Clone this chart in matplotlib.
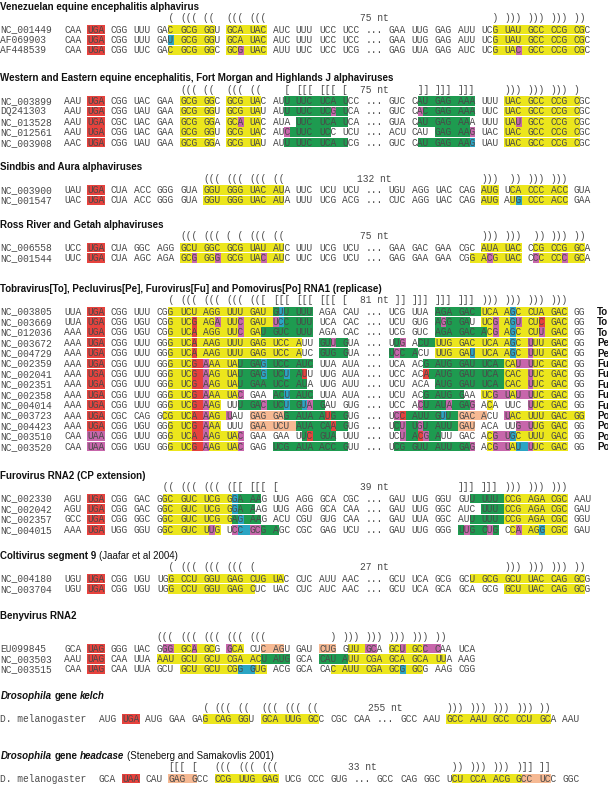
import matplotlib.pyplot as plt
from matplotlib.patches import Rectangle

# ---- data: each row = (name, codons, highlight mask, tag) ----
# mask letters: . none, R red, Y yellow, G green, M magenta, C cyan, S salmon

vee_title = [("Venezuelan equine encephalitis alphavirus", "bold", "normal")]
vee_brackets = "... ... ... ... ..( ((( ((. ((( ((( ... ... ... ... ... ... ... ... ... ..) ))) ))) ))) ))."
vee_label = "75 nt"
vee_rows = [
    ("NC_001449", "CAA UGA CGG UUU GAC GCG GGU GCA UAC AUC UUU UCC UCC ... GAA UUG GAG AUU UCG UAU GCC CCG CGC",
                  "... RRR ... ... ..Y YYY YY. YYY YYY ... ... ... ... ... ... ... ... ... ..Y YYY YYY YYY YY."),
    ("AF069903",  "CAA UGA CGG UUU GAU GCG GGU GCA UAC AUC UUU UCC UCC ... GAA UUG GAG AUU UCG UAU GCC CCG CGC",
                  "... RRR ... ... ..C YYY YY. YYY YYY ... ... ... ... ... ... ... ... ... ..Y YYY YYY YYY YY."),
    ("AF448539",  "CAA UGA CGG UUC GAC GCG GGC GCG UAC AUU UUC UCC UCG ... GAG UUA GAG AUC UCG UAC GCC CCG CGC",
                  "... RRR ... ... ..Y YYY YY. YYM YYY ... ... ... ... ... ... ... ... ... ..Y YYM YYY YYY YY."),
]

wee_title = [("Western and Eastern equine encephalitis, Fort Morgan and Highlands J alphaviruses", "bold", "normal")]
wee_brackets = "... ... ... ... ... ((( ((. ((( ((. ..[ [[[ [[[ [.. ... ... .]] ]]] ]]] ... ))) ))) ))) ).."
wee_label = "75 nt"
wee_rows = [
    ("NC_003899", "AAU UGA CGG UAC GAA GCG GGC GCG UAC AUU UUC UCA UCC ... GUC CAU GAG AAA UUU UAC GCC CCG CGC",
                  "... RRR ... ... ... YYY YY. YYY YY. ..G GGG GGG G.. ... ... .GG GGG GGG ... YYY YYY YYY Y.."),
    ("DQ241303",  "AAU UGA CGG UAU GAA GCG GGU GCG UAU AUU UUC UCG UCA ... GUC CAC GAG AAA UUC UAC GCC CCG CGC",
                  "... RRR ... ... ... YYY YY. YYY YY. ..G GGG GGM G.. ... ... .MG GGG GGG ... YYY YYY YYY Y.."),
    ("NC_013528", "AAU UGA CGC UAC GAA GCG GGA GCA UAC AUA UUC UCA UCA ... GUA CAU GAG AAA UUU UAU GCC CCG CGC",
                  "... RRR ... ... ... YYY YY. YYM YY. ... GGG GGG G.. ... ... .GG GGG GG. ... YYM YYY YYY Y.."),
    ("NC_012561", "AAU UGA CGG UAC GAA GCG GGU GCG UAC AUC UUC UCC UCU ... ACU CAU GAG AAG UAC UAC GCC CCG CGC",
                  "... RRR ... ... ... YYY YY. YYY YY. ..M GGG GG. ... ... ... ... GGG GGM ... YYY YYY YYY Y.."),
    ("NC_003908", "AAC UGA CGG UAU GAA GCG GGA GCG UAU AUU UUC UCA UCG ... GUC CAU GAG AAG UAU UAC GCC CCG CGC",
                  "... RRR ... ... ... YYY YY. YYY YY. ..G GGG GGG G.. ... ... .GG GGG GGC ... YYY YYY YYY Y.."),
]

sin_title = [("Sindbis and Aura alphaviruses", "bold", "normal")]
sin_brackets = "... ... ... ... ... ... ((( ((( ((( ((. ... ... ... ... ... ... ... ... ))) .)) ))) ))) ..."
sin_label = "132 nt"
sin_rows = [
    ("NC_003900", "UAU UGA CUA ACC GGG GUA GGU GGG UAC AUA UUC UCU UCU ... UGU AGG UAC CAG AUG UCA CCC ACC GUA",
                  "... RRR ... ... ... ... YYY YYY YYY YY. ... ... ... ... ... ... ... ... YYY .YY YYY YYY ..."),
    ("NC_001547", "UAC UGA CUA ACC GGG GUA GGU GGG UAC AUA UUU UCG ACG ... CUC AGG UAC CAG AUG AUG CCC ACC GAA",
                  "... RRR ... ... ... ... YYY YYY YYY YY. ... ... ... ... ... ... ... ... YYY .YC YYY YYY ..."),
]

ross_title = [("Ross River and Getah alphaviruses", "bold", "normal")]
ross_brackets = "... ... ... ... ... ((( ((( (.( ((( ((. ... ... ... ... ... ... ... ... ))) ))) .)) ))) ))."
ross_label = "75 nt"
ross_rows = [
    ("NC_006558", "UCC UGA CUA GGC AGG GCU GGC GCG UAU AUC UUU UCG UCU ... GAA GAC GAA CGC AUA UAC CCG CCG GCA",
                  "... RRR ... ... ... YYY YYY YYY YYY YY. ... ... ... ... ... ... ... ... YYY YYY .YY YYY YY."),
    ("NC_001544", "UUC UGA CUA AGC AGA GCG GGG GCG UAC AUC UUC UCG UCU ... GAG GAA GAA CGG ACG UAC CCC CCC GCA",
                  "... RRR ... ... ... YYM YYM YYY YYM YY. ... ... ... ... ... ... ... ..Y YMY YYY .MY YYM YY."),
]

tob_title = [("Tobravirus[To], Pecluvirus[Pe], Furovirus[Fu] and Pomovirus[Po] RNA1 (replicase)", "bold", "normal")]
tob_brackets = "... ... ... ... ..( ((( ((( ((( (([ [[[ [[[ [[[ [.. ... .]] ]]] ]]] ]]] ))) ))) ))) ))) .."
tob_label = "81 nt"
tob_rows = [
    ("NC_003805", "UUA UGA CGG UUU CGG UCU AGG UUU GAU GUU UUU AGA CAU ... UCG UUA AGA GAC UCA AGC CUA GAC GG",
                  "... RRR ... ... ..Y YYY YYY YYY YYY GCG GGG ... ... ... ... ... GGG GGG YYY YCY YYY YYY ..", "To"),
    ("NC_003669", "UUA UGA CGG UGU CGG UCG AGA UUC GAU UCC UUU UCA CAC ... UCU GUG AGG GAU UCG AGU CUC GAC GG",
                  "... RRR ... ... ..Y YYR YYM YYM YYY MCG GGG ... ... ... ... ... GMG GG. YYM YCM YYR YYY ..", "To"),
    ("NC_012036", "AAA UGA CGG UGU CGG UCA AGG UUC GAU GUC UUU AGA CAC ... UCG GUC AGA GAC ACG AGC CUU GAC GG",
                  "... RRR ... ... ..Y YYR YYY YYM YYG GGG GGG ... ... ... ... ... GGG GGG GYM YCY YYM YYY ..", "To"),
    ("NC_003672", "AAA UGA CGG UUU GGG UCA AAG UUU GAG UCC AUU GUU GUA ... UUG ACU UUG GAC UCA AGC UUU GAC GG",
                  "... RRR ... ... ..Y YYR YYY YYY YYY YYY Y.. GGM G.. ... .GM .GG YYY YYY YYY YCY MYY YYY ..", "Pe"),
    ("NC_004729", "AAA UGA CGG UUU GGG UCA AAG UUU GAG UCC AUC GUG GUA ... UCC ACU UUG GAU UCA AGC UUU GAC GG",
                  "... RRR ... ... ..Y YYR YYY YYY YYY YYY Y.. GGG G.. ... GMG G.. YYY YYC YYY YCY MYY YYY ..", "Pe"),
    ("NC_002359", "AAA UGA CGG UUU GGG UCG AAA UAU GAG UCC AUC UUA AUA ... UCA ACG AUG GAU UCA CAU UUC GAC GG",
                  "... RRR ... ... ..Y YYR MYY YYG GGC GGG GGG ... ... ... ... ..G GGG GGG GGG YYM MYY YYY ..", "Fu"),
    ("NC_002041", "AAA UGA CGG UUU GGG UCG AAG UAU GAG UCU AUU UUG AUA ... UCC ACA AUG GAU UCA CAC UUC GAC GG",
                  "... RRR ... ... ..Y YYR MYY YYG GGC GGC GR. ... ... ... ... ..R GGG GGG GGG YYY MYY YYY ..", "Fu"),
    ("NC_002351", "AAA UGA CGG UUU GGG UCG AAG UAU GAA UCC AUA UUG AUU ... UCU ACA AUG GAU UCA CAC UUC GAC GG",
                  "... RRR ... ... ..Y YYR MYY YYG GGG GGG GG. ... ... ... ... ... GGG GGG GGG YYY MYY YYY ..", "Fu"),
    ("NC_002358", "AAA UGA CGG UUU GGG UCG AAA UAC GAA ACU AUC UUA AUA ... UCU ACG AUG GAA UCG UAU UUC GAC GG",
                  "... RRR ... ... ..Y YYR MYY YYM ... GGC GGG ... ... ... ... ..G GGG G.. YYM MYM MYY YYY ..", "Fu"),
    ("NC_004014", "AAA UGA CGG UUU GGG UCG AAG UUU GAC UCU GUA GAU GUG ... UCC ACU AUA GAG ACA UUC UUC GAC GG",
                  "... RRR ... ... ..Y YYR MYY ..G GGM GGC GCM G.. ... ... ... .MG GGM GGM .Y. ... MYY YYY ..", "Fu"),
    ("NC_003723", "AAA UGA CGC CAG GCG UCA AAG UAU GAG GAG AUA AUG GUG ... UCC AUU GUU GAC ACU UAC UUU GAC GG",
                  "... RRR ... ... .YY YYR MYY M.. SSS SSG GGG GRG G.. ... .MR GGG GCG SSS S.. MYY YYY YYY YY", "Po"),
    ("NC_004423", "AAA UGA CGG UGU GGG UCG AAA UUU GAA UCU AUA CAA GUG ... UCU UGU AUU GAU ACA UUG UUG GAC GG",
                  "... RRR ... ... ..Y YYR MYY ... SSS SSS GGG GGR G.. ... .GM GMG GGG SSS ... ..M MYY YYY ..", "Po"),
    ("NC_003510", "CAA UAA CGG UUU GGG UCA AAG UAC GAA GAA UUC GUA UUU ... UCU ACG AUU GAC ACG UGC UUU GAC GG",
                  "... MMM ... ... ..Y YYR MYY YYM ... ... .GR GGG ... ... ..M GRM G.. ... .YM MCY YYY YYY ..", "Po"),
    ("NC_003520", "CAA UAA CGG UGU GGG UCG AAG UAC GAG UCG AUA ACC GUU ... UCG GUU AUU GAG ACG UAU UUC GAC GG",
                  "... MMM ... ... ..Y YYR MYY YYM ... GGG GGG GGG G.. ... .GG GGG GGG GGM .YM MYC MYY YYY ..", "Po"),
]

furo_title = [("Furovirus RNA2 (CP extension)", "bold", "normal")]
furo_brackets = "... ... ... ... .(( ((( ((( ([[ [[[ [.. ... ... ... ... ... ... ... ]]] ]]] ))) ))) ))) ..."
furo_label = "39 nt"
furo_rows = [
    ("NC_002330", "AGU UGA CGG GAC GGC GUC UCG GGA AAG UUG AGG GCA CGC ... GAU UUG GGU GUU UUU CCG AGA CGC AAU",
                  "... RRR ... ... .YY YYY YYY YCG GG. ... ... ... ... ... ... ... ... ..G GGG YYY YYY YYY ..."),
    ("NC_002042", "AGU UGA CGG GAC GGC GUC UCG GGA AAG UUG AGG GCA CAA ... GAU UUG GGC AUC UUU CCG AGA CGC GAU",
                  "... RRR ... ... .YY YYY YYY YCG G.. ... ... ... ... ... ... ... ... ... GGG YYY YYY YYY ..."),
    ("NC_002357", "GCC UGA CGG GGC GGC GUC UCG GAG AAG ACU CGU GUG CAA ... GAU UUA GGC AUU UUU CCG AGA CGC GGU",
                  "... RRR ... ... .YY YYY YYY YGC GG. ... ... ... ... ... ... ... ... ..G GGG YYY YYY YYY ..."),
    ("NC_004015", "AAA UGA UGG GGU GGC GUC UUG UCC GCG AGC CGC GAG UCU ... GAU UUG GGG UUG CUG CCA AGG CGC GAU",
                  "... RRR ... ... .YY YYY YMY .MC MMG G.. ... ... ... ... ... ... ... GMG GMG .YM YYC YYY ..."),
]

colti_title = [("Coltivirus segment 9", "bold", "normal"), ("(Jaafar et al 2004)", "normal", "normal")]
colti_brackets = "... ... ... ... ..( ((( ((( ((( (.. ... ... ... ... ... ... ... ... ... ... ))) ))) ))) ))."
colti_label = "27 nt"
colti_rows = [
    ("NC_004180", "UGU UGA CGG UGU UGG CCU GGU GAG CUG UAC CUC AUU AAC ... GCU UCA GCG GCU GCG GCU UAC CAG GCG",
                  "... RRR ... ... ..Y YYY YYY YYY YYY YY. ... ... ... ... ... ... ... ..Y YYY YYY YYY YYY YY."),
    ("NC_003704", "UGU UGA CGG UGU UGG CCU GGU GAG CUC UAC CUC AUC AAC ... GCU UCA GCA GCA GCG GCU UAC CAG GCG",
                  "... RRR ... ... ..Y YYY YYY YYY Y.. ... ... ... ... ... ... ... ... ... ... YYY YYY YYY YY."),
]

beny_title = [("Benyvirus RNA2", "bold", "normal")]
beny_brackets = "... ... ... ... ((( ((( ((( ((( ((( ... ... ..) ))) ))) ))) ))) )). ..."
beny_label = None
beny_rows = [
    ("EU099845",  "GCA UAG GGG UAC GGG GCA GCG GCA CUC AGU GAU CUG GUU GCA GCU GCC CAA UCA",
                  "... RRR ... ... .MM YYM YY. MYY ..S SS. ... SSS .YY MM. YYM YYM M.. ..."),
    ("NC_003503", "AAU UAG CAA UUA AAU GCU GCU CGA ACU AUG GCA CAU AUU CGA GCA GCA UUA AAG",
                  "... RRR ... ... YYY YYY YYY YYY YYG GGG ... GGG GYY YYY YYY YYY YY. ..."),
    ("NC_003515", "CAA UAG CAA UUA GCU GCU GCU CGG GUG ACG GCA CAC AUU CGA GCG GCG AAG CGG",
                  "... RRR ... ... ... YYY YYY YYC CYY ... ... ..Y YYY YYY YYC YY. ... ..."),
]

kelch_title = [("Drosophila", "bold", "italic"), ("gene", "bold", "normal"), ("kelch", "bold", "italic")]
kelch_brackets = "... ... ... ... ..( ((( ((. ((( ((( ((. ... ... ... ... ... ))) ))) ))) ))) )). ..."
kelch_label = "255 nt"
kelch_rows = [
    ("D. melanogaster", "AUG UGA AUG GAA GAG CAG GGU GCA UUG GCC CGC CAA ... GCC AAU GCC AAU GCC CCU GCA AAU",
                        "... RRR ... ... ..Y YYY YY. YYY YYY YY. ... ... ... ... ... YYY YYY YYY YYY YY. ..."),
]

hdc_title = [("Drosophila", "bold", "italic"), ("gene", "bold", "normal"), ("headcase", "bold", "italic"),
             ("(Steneberg and Samakovlis 2001)", "normal", "normal")]
hdc_brackets = "... ... ... [[[ [.. ((( ((( ((( ... ... ... ... ... ... ... .)) ))) ))) )]] ]]. ..."
hdc_label = "33 nt"
hdc_rows = [
    ("D. melanogaster", "GCA UAA CAU GAG GCC CCG UUG GAG UCG CCC GUG ... GCC CAG GGC UCU CCA ACG GCC UCC GGC",
                        "... RRR ... SSS S.. YYY YYY YYY ... ... ... ... ... ... ... .YY YYY YYY YSS SS. ..."),
]

sections = [
    (vee_title, vee_brackets, vee_label, vee_rows, 11),
    (wee_title, wee_brackets, wee_label, wee_rows, 11),
    (sin_title, sin_brackets, sin_label, sin_rows, 11),
    (ross_title, ross_brackets, ross_label, ross_rows, 11),
    (tob_title, tob_brackets, tob_label, tob_rows, 11),
    (furo_title, furo_brackets, furo_label, furo_rows, 11),
    (colti_title, colti_brackets, colti_label, colti_rows, 11),
    (beny_title, beny_brackets, beny_label, beny_rows, 11),
    (kelch_title, kelch_brackets, kelch_label, kelch_rows, 17),
    (hdc_title, hdc_brackets, hdc_label, hdc_rows, 17),
]

colors = {'R': '#e6423d', 'Y': '#ece61c', 'G': '#1e9b50', 'M': '#c766ab',
          'C': '#2aa5c4', 'S': '#f6b993'}

# ---- layout (pixels) ----
W, H = 608, 787
FS = 6.95
EM = FS * 100 / 72
CW = 0.6 * EM
X0 = 0.5
PITCH = 10.4
BOX_H = 9.6
HEAD_Y = [6.5, 78, 167, 224.5, 288.5, 475.5, 555.5, 616, 696, 755.5]
HEAD_TO_BR = [11.5] * 7 + [21] + [11.5] * 2
BR_TO_ROW = 11.5
MONO = 'Liberation Mono'
SANS = 'Liberation Sans'
TXT = '#4a4a4a'


def space_color(a, b):
    if a == '.' or b == '.':
        return '.'
    if a in 'YGS':
        return a
    if b in 'YGS':
        return b
    return a


def draw_row(ax, y, name, seq, mask, start, tag=None):
    toks = seq.split(' ')
    mtoks = mask.split(' ')
    assert len(toks) == len(mtoks), (name, len(toks), len(mtoks))
    full = []
    for i, m in enumerate(mtoks):
        assert len(m) == len(toks[i]), (name, i)
        if i > 0:
            full.append(space_color(mtoks[i - 1][-1], m[0]))
        full.extend(m)
    # boxes as runs of one colour
    i = 0
    while i < len(full):
        c = full[i]
        j = i
        while j + 1 < len(full) and full[j + 1] == c:
            j += 1
        if c != '.':
            ax.add_patch(Rectangle((X0 + (start + i) * CW, y - BOX_H / 2), (j - i + 1) * CW, BOX_H,
                                   facecolor=colors[c], edgecolor='none', lw=0))
        i = j + 1
    base = y + 0.32 * EM
    ax.text(X0, base, name, fontsize=FS, family=MONO, color=TXT, va='baseline')
    for k, t in enumerate(toks):
        ax.text(X0 + (start + 4 * k) * CW, base, t, fontsize=FS, family=MONO, color=TXT, va='baseline')
    if tag:
        ax.text(X0 + 103 * CW, y + 0.36 * EM, tag, fontsize=7.0, family=SANS, fontweight='bold',
                color='#111111', va='baseline')


def draw_brackets(ax, y, brackets, label, start, ellipsis_idx):
    base = y + 0.32 * EM
    for k, t in enumerate(brackets.split(' ')):
        s = t.replace('.', ' ')
        if s.strip():
            ax.text(X0 + (start + 4 * k) * CW, base, s, fontsize=FS, family=MONO, color=TXT, va='baseline')
    if label and ellipsis_idx is not None:
        xc = X0 + (start + 4 * ellipsis_idx + 1.5) * CW
        ax.text(xc, base, label, fontsize=FS, family=MONO, color=TXT, va='baseline', ha='center')


def draw_title(ax, y, parts, renderer):
    x = X0
    for text, weight, style in parts:
        t = ax.text(x, y + 0.36 * EM, text, fontsize=7.0, family=SANS, fontweight=weight,
                    fontstyle=style, color='#111111', va='baseline')
        bb = t.get_window_extent(renderer)
        x += bb.width + 0.278 * 7.0 * 100 / 72


fig = plt.figure(figsize=(W / 100, H / 100), dpi=100)
ax = fig.add_axes([0, 0, 1, 1])
ax.set_xlim(0, W)
ax.set_ylim(H, 0)
ax.axis('off')
renderer = fig.canvas.get_renderer()

for s, (title, brackets, label, rows, start) in enumerate(sections):
    y = HEAD_Y[s]
    draw_title(ax, y, title, renderer)
    y += HEAD_TO_BR[s]
    first_seq = rows[0][1].split(' ')
    ell = first_seq.index('...') if '...' in first_seq else None
    draw_brackets(ax, y, brackets, label, start, ell)
    y += BR_TO_ROW
    for r in rows:
        tag = r[3] if len(r) > 3 else None
        draw_row(ax, y, r[0], r[1], r[2], start, tag)
        y += PITCH

fig.savefig('out.png', dpi=100)
